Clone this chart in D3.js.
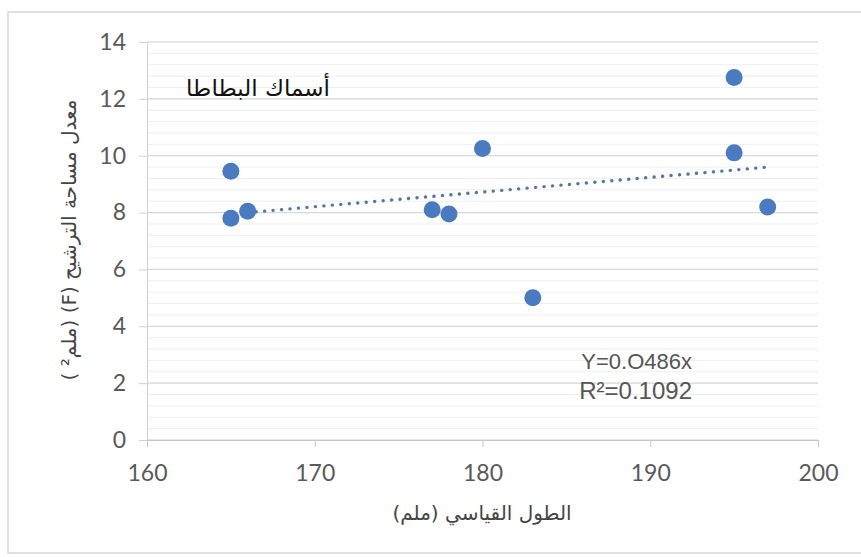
<!DOCTYPE html>
<html>
<head>
<meta charset="utf-8">
<script src="https://cdn.jsdelivr.net/npm/d3@7"></script>
<style>
  body { margin: 0; background: #fff; }
  svg text { font-family: Lato, "Liberation Sans", sans-serif; }
</style>
</head>
<body>
<svg id="chart" width="861" height="557"></svg>
<script>
// standard length (mm) vs filtration area
var lengths = [165, 165, 166, 177, 178, 180, 183, 195, 195, 197];
var areas   = [9.45, 7.8, 8.05, 8.1, 7.95, 10.25, 5.0, 12.75, 10.1, 8.2];

// trendline end points
var trendX = [166, 197];
var trendY = [8.0, 9.6];

var xTicks = [160, 170, 180, 190, 200];
var yTicks = [0, 2, 4, 6, 8, 10, 12, 14];

var svg = d3.select("#chart");

// outer frame
svg.append("rect")
    .attr("x", 8).attr("y", 12)
    .attr("width", 880).attr("height", 541)
    .attr("fill", "#fff")
    .attr("stroke", "#d6d6d6")
    .attr("stroke-width", 1.5);

var x = d3.scaleLinear().domain([160, 200]).range([147, 818]);
var y = d3.scaleLinear().domain([0, 14]).range([440, 42]);

// minor grid
var minor = d3.range(0, 14.01, 0.4);
svg.append("g").selectAll("line")
    .data(minor)
    .enter().append("line")
    .attr("x1", x(160)).attr("x2", x(200))
    .attr("y1", function(d){ return y(d); })
    .attr("y2", function(d){ return y(d); })
    .attr("stroke", "#eeeeee")
    .attr("stroke-width", 1);

// major grid
svg.append("g").selectAll("line")
    .data(yTicks)
    .enter().append("line")
    .attr("x1", x(160)).attr("x2", x(200))
    .attr("y1", function(d){ return y(d); })
    .attr("y2", function(d){ return y(d); })
    .attr("stroke", "#d9d9d9")
    .attr("stroke-width", 1.2);

// y axis
var yAxis = svg.append("g")
    .attr("transform", "translate(" + x(160) + ",0)")
    .call(d3.axisLeft(y).tickValues(yTicks).tickSize(8).tickPadding(13));
yAxis.select(".domain").attr("stroke", "#d0d0d0");
yAxis.selectAll(".tick line").attr("stroke", "#d0d0d0");
yAxis.selectAll("text")
    .attr("fill", "#595959")
    .style("font-size", "23px");

// x axis
var xAxis = svg.append("g")
    .attr("transform", "translate(0," + y(0) + ")")
    .call(d3.axisBottom(x).tickValues(xTicks).tickSize(7).tickPadding(18));
xAxis.select(".domain").attr("stroke", "#c8c8c8");
xAxis.selectAll(".tick line").attr("stroke", "#c8c8c8");
xAxis.selectAll("text")
    .attr("fill", "#595959")
    .style("font-size", "23px");

// dotted trendline
svg.append("line")
    .attr("x1", x(trendX[0])).attr("y1", y(trendY[0]))
    .attr("x2", x(trendX[1])).attr("y2", y(trendY[1]))
    .attr("stroke", "#55789f")
    .attr("stroke-width", 3.4)
    .attr("stroke-linecap", "round")
    .attr("stroke-dasharray", "0.1,8.4");

// points
svg.append("g").selectAll("circle")
    .data(lengths)
    .enter().append("circle")
    .attr("cx", function(d){ return x(d); })
    .attr("cy", function(d, i){ return y(areas[i]); })
    .attr("r", 8.5)
    .attr("fill", "#4a7ac0");

// chart title inside plot
svg.append("text")
    .attr("x", 258).attr("y", 96)
    .attr("text-anchor", "middle")
    .attr("fill", "#111")
    .style("font-family", "'DejaVu Sans', sans-serif")
    .style("font-size", "23px")
    .text("أسماك البطاطا");

// equation
svg.append("text")
    .attr("x", 692).attr("y", 369)
    .attr("text-anchor", "end")
    .attr("fill", "#555")
    .style("font-family", "'Liberation Sans', sans-serif")
    .style("font-size", "22px")
    .text("Y=0.O486x");
svg.append("text")
    .attr("x", 692).attr("y", 399)
    .attr("text-anchor", "end")
    .attr("fill", "#555")
    .style("font-family", "'Liberation Sans', sans-serif")
    .style("font-size", "24px")
    .text("R²=0.1092");

// axis titles
svg.append("text")
    .attr("x", 482).attr("y", 520)
    .attr("text-anchor", "middle")
    .attr("direction", "rtl")
    .attr("fill", "#444")
    .style("font-family", "'DejaVu Sans', sans-serif")
    .style("font-size", "20px")
    .text("الطول القياسي (ملم)");

svg.append("text")
    .attr("transform", "translate(76,240) rotate(-90)")
    .attr("text-anchor", "middle")
    .attr("direction", "rtl")
    .attr("fill", "#444")
    .style("font-family", "'DejaVu Sans', sans-serif")
    .style("font-size", "20px")
    .text("معدل مساحة الترشيح  (F)  (ملم² )");
</script>
</body>
</html>
